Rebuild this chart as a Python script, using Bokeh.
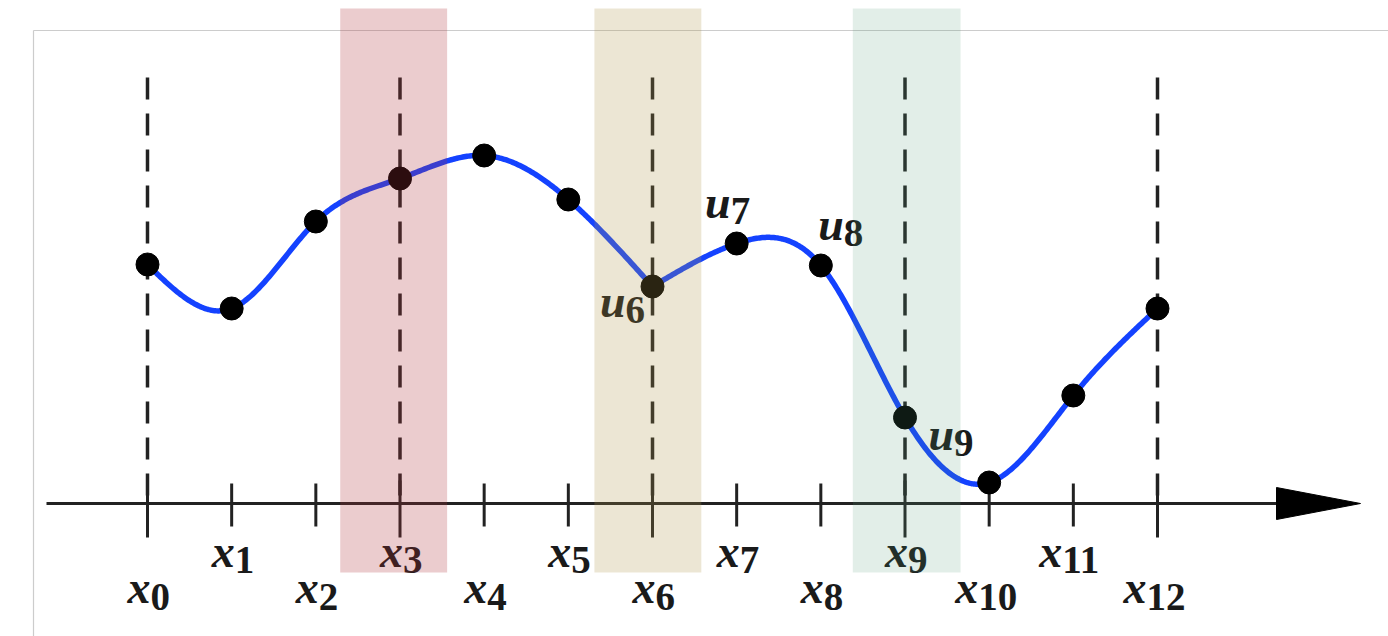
import numpy as np
from bokeh.plotting import figure
from bokeh.models import Range1d, ColumnDataSource
from bokeh.core.properties import value
from bokeh.embed import file_html
from bokeh.resources import INLINE

# ---- data -------------------------------------------------------------
nodes = list(range(13))                       # x_0 ... x_12
u_vals = [2.39, 1.95, 2.82, 3.25, 3.48, 3.04, 2.17,
          2.60, 2.38, 0.86, 0.21, 1.08, 1.95]  # u_i at each node
node_labels = [str(i) for i in nodes]
spline_breaks = [0, 6, 12]                    # two spline pieces joined at x_6
dashed_nodes = [0, 3, 6, 9, 12]

band_left = [2.29, 5.31, 8.38]
band_right = [3.56, 6.58, 9.66]
band_colors = ["#ae353d", "#af964b", "#529976"]
band_alpha = [0.25, 0.24, 0.17]

u_label_nodes = [6, 7, 8, 9]

# ---- layout helpers (pixels per data unit) ----------------------------
W, H = 1388, 636
X0_PX, AXIS_PX = 147.0, 503.0
XS, YS = 1010.0 / 12.0, 100.0
TEXT_LIFT = 11  # baseline correction for the label glyphs


def dx(px):
    return px / XS


def dy(px):
    return px / YS


def px_x(px):
    return (px - X0_PX) / XS


def px_y(py):
    return (AXIS_PX - py) / YS


p = figure(width=W, height=H, output_backend="svg", toolbar_location=None,
           x_range=Range1d(px_x(0), px_x(W)), y_range=Range1d(px_y(H), px_y(0)),
           min_border=0, x_axis_type=None, y_axis_type=None)
p.grid.visible = False
p.outline_line_color = None
p.background_fill_color = "white"

# thin page frame
p.line([px_x(33), px_x(W)], [px_y(30), px_y(30)], line_color="#cccccc", line_width=1.2)
p.line([px_x(33), px_x(33)], [px_y(30), px_y(H)], line_color="#cccccc", line_width=1.2)

# dashed verticals at every third node
for n in dashed_nodes:
    p.line([n, n], [px_y(77), 0], line_color="#222222", line_width=3.5, line_dash="22 14")

# horizontal axis with arrow
p.line([px_x(46), px_x(1290)], [0, 0], line_color="#222222", line_width=3)
p.patch([px_x(1276), px_x(1360), px_x(1276)], [dy(16), 0, -dy(16)],
        fill_color="black", line_color="black", line_width=1)

# tick marks: long at the dashed nodes, short elsewhere
for n in nodes:
    if n in dashed_nodes:
        top, bot = dy(23), -dy(34)
    else:
        top, bot = dy(20), -dy(23)
    p.line([n, n], [top, bot], line_color="#222222", line_width=3)


# natural cubic spline through the nodes of each piece
def natural_spline(xk, yk, per=60):
    xk = np.asarray(xk, float)
    yk = np.asarray(yk, float)
    n = len(xk)
    h = np.diff(xk)
    A = np.zeros((n, n))
    b = np.zeros(n)
    A[0, 0] = A[-1, -1] = 1.0
    for i in range(1, n - 1):
        A[i, i - 1] = h[i - 1]
        A[i, i] = 2 * (h[i - 1] + h[i])
        A[i, i + 1] = h[i]
        b[i] = 6 * ((yk[i + 1] - yk[i]) / h[i] - (yk[i] - yk[i - 1]) / h[i - 1])
    M = np.linalg.solve(A, b)
    xs_out, ys_out = [], []
    for i in range(n - 1):
        t = np.linspace(xk[i], xk[i + 1], per)
        a = (xk[i + 1] - t) / h[i]
        c = (t - xk[i]) / h[i]
        s = (a * yk[i] + c * yk[i + 1]
             + ((a ** 3 - a) * M[i] + (c ** 3 - c) * M[i + 1]) * h[i] ** 2 / 6)
        xs_out.extend(t)
        ys_out.extend(s)
    return xs_out, ys_out


for a, b in zip(spline_breaks[:-1], spline_breaks[1:]):
    cx, cy = natural_spline(nodes[a:b + 1], u_vals[a:b + 1])
    p.line(cx, cy, line_color="#1442ff", line_width=5.5, line_cap="round", line_join="round")

p.scatter(nodes, u_vals, size=23, fill_color="black", line_color="black")

# node labels x_i, alternating rows below the axis
TXT = "#1a1a1a"
base_x, sub_x, base_y, sub_y, subs = [], [], [], [], []
for n, lab in zip(nodes, node_labels):
    joint = n + (dx(3) if len(lab) == 1 else -dx(11))
    if n % 2:
        by, sy = px_y(562 - TEXT_LIFT), px_y(570 - TEXT_LIFT)
    else:
        by, sy = px_y(598 - TEXT_LIFT), px_y(607 - TEXT_LIFT)
    base_x.append(joint)
    base_y.append(by)
    sub_x.append(joint)
    sub_y.append(sy)
    subs.append(lab)

p.text(x=base_x, y=base_y, text=["x"] * len(nodes), text_align="right",
       text_baseline="alphabetic", text_font=value("Liberation Serif"),
       text_font_style="bold italic", text_font_size="46px", text_color=TXT)
p.text(x=sub_x, y=sub_y, text=subs, text_align="left", text_baseline="alphabetic",
       text_font=value("Liberation Serif"), text_font_style="bold",
       text_font_size="39px", text_color=TXT)

# u_i labels next to selected points (pixel offsets from the point)
u_joint_dx = [-27, -6, 23, 49]
u_base_dy = [26 - TEXT_LIFT, -30 - TEXT_LIFT, -30 - TEXT_LIFT, 28 - TEXT_LIFT]
ub_x = [n + dx(o) for n, o in zip(u_label_nodes, u_joint_dx)]
ub_y = [u_vals[n] - dy(o) for n, o in zip(u_label_nodes, u_base_dy)]
us_y = [y - dy(8) for y in ub_y]
p.text(x=ub_x, y=ub_y, text=["u"] * len(u_label_nodes), text_align="right",
       text_baseline="alphabetic", text_font=value("Liberation Serif"),
       text_font_style="bold italic", text_font_size="46px", text_color=TXT)
p.text(x=ub_x, y=us_y, text=[str(n) for n in u_label_nodes], text_align="left",
       text_baseline="alphabetic", text_font=value("Liberation Serif"),
       text_font_style="bold", text_font_size="39px", text_color=TXT)

# translucent highlight bands
band_src = ColumnDataSource(dict(left=band_left, right=band_right,
                                 color=band_colors, alpha=band_alpha))
p.quad(left="left", right="right", bottom=px_y(572), top=px_y(8), source=band_src,
       fill_color="color", fill_alpha="alpha", line_color=None)

open("out.html", "w").write(file_html(p, INLINE))
